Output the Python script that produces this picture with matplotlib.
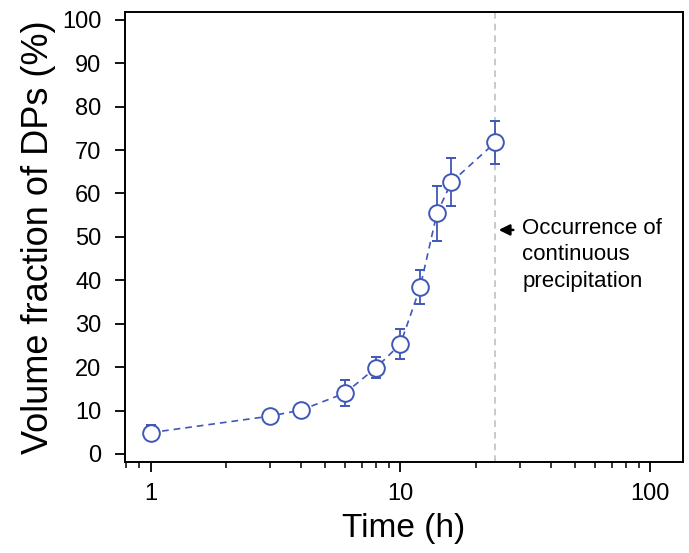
import numpy as np
import matplotlib.pyplot as plt
from matplotlib.ticker import LogLocator, NullFormatter, FixedLocator

plt.rcParams['font.family'] = ['Liberation Sans', 'DejaVu Sans']

# data
time_h = [1, 3, 4, 6, 8, 10, 12, 14, 16, 24]
frac = [4.9, 8.7, 10.1, 14.0, 19.9, 25.3, 38.4, 55.4, 62.6, 71.8]
err = [1.7, 1.0, 1.3, 3.0, 2.5, 3.5, 3.9, 6.3, 5.6, 5.0]
cp_time = 24
blue = '#3f57b8'

fig = plt.figure(figsize=(6.89, 5.53), dpi=100)
ax = fig.add_axes([0.1814, 0.1646, 0.8096, 0.8137])

ax.errorbar(time_h, frac, yerr=err, fmt='o', color=blue, mfc='white', mec=blue,
            ms=12, mew=1.4, elinewidth=1.3, capsize=3.5, capthick=1.3, ls='--',
            lw=1.2, dashes=(4, 3), zorder=3)

ax.axvline(cp_time, color='#c0c0c0', ls='--', lw=1.2, dashes=(4, 3), zorder=1)
ax.annotate('', xy=(cp_time * 1.005, 51.6), xytext=(cp_time * 1.21, 51.6),
            arrowprops=dict(arrowstyle='-|>', color='black', lw=1.8,
                            mutation_scale=16))
ax.text(cp_time * 1.28, 54.4, 'Occurrence of\ncontinuous\nprecipitation',
        fontsize=16, va='top', ha='left', linespacing=1.35)

ax.set_xscale('log')
ax.set_xlim(0.79, 135)
ax.set_ylim(-1.85, 101.8)
ax.xaxis.set_major_locator(FixedLocator([1, 10, 100]))
ax.set_xticklabels(['1', '10', '100'])
ax.xaxis.set_minor_locator(LogLocator(base=10, subs=np.arange(2, 10)))
ax.xaxis.set_minor_formatter(NullFormatter())
ax.set_yticks(np.arange(0, 101, 10))

ax.tick_params(axis='both', which='major', direction='out', length=7, width=1.3,
               labelsize=17)
ax.tick_params(axis='y', which='major', pad=10)
ax.tick_params(axis='x', which='major', pad=8)
ax.tick_params(axis='x', which='minor', direction='out', length=4, width=1.1)
for s in ax.spines.values():
    s.set_linewidth(1.4)

ax.set_xlabel('Time (h)', fontsize=24, labelpad=6)
ax.set_ylabel('Volume fraction of DPs (%)', fontsize=26, labelpad=4)

fig.savefig('out.png', dpi=100)
